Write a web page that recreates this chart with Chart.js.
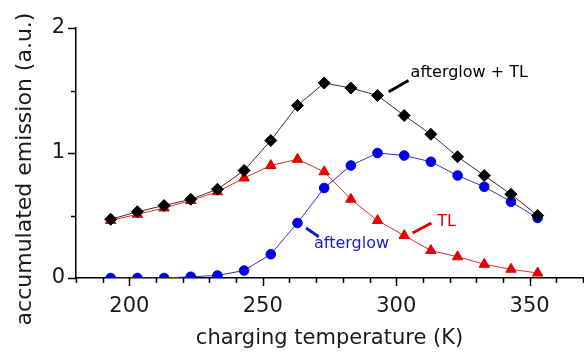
<!DOCTYPE html>
<html>
<head>
<meta charset="utf-8">
<script src="https://cdn.jsdelivr.net/npm/chart.js@4.4.0/dist/chart.umd.min.js"></script>
<style>
  html, body { margin: 0; padding: 0; background: #fff; }
  #wrap { width: 584px; height: 354px; }
</style>
</head>
<body>
<div id="wrap"><canvas id="chart"></canvas></div>
<script>
// charging temperature (K)
const temps = [193, 203, 213, 223, 233, 243, 253, 263, 273, 283, 293, 303, 313, 323, 333, 343, 353];
// accumulated emission (a.u.)
const sumValues = [0.47, 0.53, 0.58, 0.63, 0.71, 0.86, 1.10, 1.38, 1.56, 1.52, 1.46, 1.30, 1.15, 0.97, 0.82, 0.67, 0.50];
const tlValues = [0.46, 0.51, 0.56, 0.62, 0.69, 0.80, 0.90, 0.95, 0.85, 0.63, 0.46, 0.34, 0.22, 0.17, 0.11, 0.07, 0.04];
const afterglowValues = [0.00, 0.00, 0.00, 0.01, 0.02, 0.06, 0.19, 0.44, 0.72, 0.90, 1.00, 0.98, 0.93, 0.82, 0.73, 0.61, 0.48];

const xTickLabels = [200, 250, 300, 350];
const yTickLabels = [0, 1, 2];

const FONT = "'DejaVu Sans', sans-serif";

const toPoints = vals => vals.map((v, i) => ({ x: temps[i], y: v }));

// labels with leader lines, placed in data units
const notes = [
  { text: 'afterglow + TL', color: '#000000', lineColor: '#000000', x: 305.4, y: 1.64, from: [297.2, 1.49], to: [304.6, 1.58] },
  { text: 'TL', color: '#e00000', lineColor: '#e00000', x: 315.4, y: 0.45, from: [306.1, 0.36], to: [313.2, 0.44] },
  { text: 'afterglow', color: '#1a1acc', lineColor: '#1a1acc', x: 269.2, y: 0.27, from: [266.2, 0.40], to: [271.0, 0.33] }
];

const tickMarks = {
  id: 'tickMarks',
  afterDraw(chart) {
    const ctx = chart.ctx;
    const xs = chart.scales.x, ys = chart.scales.y;
    ctx.save();
    ctx.strokeStyle = '#000';
    ctx.lineWidth = 1.5;
    ctx.beginPath();
    xs.ticks.forEach(t => {
      const px = Math.round(xs.getPixelForValue(t.value)) + 0.5;
      const len = xTickLabels.includes(t.value) ? 8 : 5;
      ctx.moveTo(px, xs.top);
      ctx.lineTo(px, xs.top + len);
    });
    ys.ticks.forEach(t => {
      const py = Math.round(ys.getPixelForValue(t.value)) + 0.5;
      const len = yTickLabels.includes(t.value) ? 8 : 5;
      ctx.moveTo(ys.right, py);
      ctx.lineTo(ys.right - len, py);
    });
    ctx.stroke();

    // y title
    ctx.fillStyle = '#1a1a1a';
    ctx.font = '22px ' + FONT;
    ctx.textAlign = 'center';
    ctx.textBaseline = 'middle';
    ctx.translate(25, 169);
    ctx.rotate(-Math.PI / 2);
    ctx.fillText('accumulated emission (a.u.)', 0, 0);
    ctx.restore();
  }
};

const noteLabels = {
  id: 'noteLabels',
  afterDatasetsDraw(chart) {
    const ctx = chart.ctx;
    const xs = chart.scales.x, ys = chart.scales.y;
    ctx.save();
    notes.forEach(n => {
      ctx.strokeStyle = n.lineColor;
      ctx.lineWidth = 3;
      ctx.beginPath();
      ctx.moveTo(xs.getPixelForValue(n.from[0]), ys.getPixelForValue(n.from[1]));
      ctx.lineTo(xs.getPixelForValue(n.to[0]), ys.getPixelForValue(n.to[1]));
      ctx.stroke();
      ctx.fillStyle = n.color;
      ctx.font = '16px ' + FONT;
      ctx.textAlign = 'left';
      ctx.textBaseline = 'middle';
      ctx.fillText(n.text, xs.getPixelForValue(n.x), ys.getPixelForValue(n.y));
    });
    ctx.restore();
  }
};

new Chart(document.getElementById('chart'), {
  type: 'line',
  data: {
    datasets: [
      {
        label: 'afterglow + TL',
        data: toPoints(sumValues),
        borderColor: '#333333',
        borderWidth: 1,
        pointStyle: 'rectRot',
        pointRadius: 6,
        pointBackgroundColor: '#000000',
        pointBorderColor: '#000000',
        pointBorderWidth: 1
      },
      {
        label: 'TL',
        data: toPoints(tlValues),
        borderColor: '#d83030',
        borderWidth: 1,
        pointStyle: 'triangle',
        pointRadius: 6,
        pointBackgroundColor: '#e60000',
        pointBorderColor: '#e60000',
        pointBorderWidth: 1
      },
      {
        label: 'afterglow',
        data: toPoints(afterglowValues),
        borderColor: '#3030c8',
        borderWidth: 1,
        pointStyle: 'circle',
        pointRadius: 4.8,
        pointBackgroundColor: '#0000e6',
        pointBorderColor: '#0000e6',
        pointBorderWidth: 1
      }
    ]
  },
  options: {
    responsive: true,
    maintainAspectRatio: false,
    animation: false,
    events: [],
    layout: { autoPadding: false, padding: { top: 28, right: 1, left: 0, bottom: 0 } },
    plugins: {
      legend: { display: false },
      tooltip: { enabled: false }
    },
    scales: {
      x: {
        type: 'linear',
        min: 180,
        max: 370,
        afterFit(scale) {
          scale.height = 76;
          scale.paddingLeft = 0;
          scale.paddingRight = 0;
        },
        grid: { display: false, drawTicks: false },
        border: { display: true, color: '#000', width: 1.5 },
        ticks: {
          stepSize: 10,
          autoSkip: false,
          maxRotation: 0,
          padding: 16,
          color: '#1a1a1a',
          font: { family: FONT, size: 21 },
          callback: v => xTickLabels.includes(v) ? String(v) : ''
        },
        title: {
          display: true,
          text: 'charging temperature (K)',
          color: '#1a1a1a',
          font: { family: FONT, size: 21 },
          padding: { top: 0, bottom: 3 }
        }
      },
      y: {
        min: 0,
        max: 2,
        afterFit(scale) {
          scale.width = 76;
          scale.paddingTop = 0;
          scale.paddingBottom = 0;
        },
        grid: { display: false, drawTicks: false },
        border: { display: true, color: '#000', width: 1.5 },
        ticks: {
          stepSize: 0.5,
          autoSkip: false,
          padding: 11,
          color: '#1a1a1a',
          font: { family: FONT, size: 21 },
          callback: v => yTickLabels.includes(v) ? String(v) : ''
        }
      }
    }
  },
  plugins: [tickMarks, noteLabels]
});
</script>
</body>
</html>
